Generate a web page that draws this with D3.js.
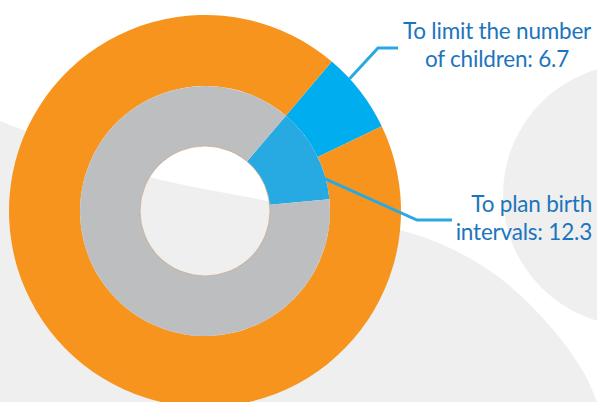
<!DOCTYPE html>
<html>
<head>
<meta charset="utf-8">
<script src="https://cdn.jsdelivr.net/npm/d3@7/dist/d3.min.js"></script>
<style>
  html, body { margin: 0; padding: 0; background: #ffffff; }
  svg { display: block; }
</style>
</head>
<body>
<svg id="chart" width="597" height="402"></svg>
<script>
// Reasons for using family planning (percent)
const ringNames   = ["To limit the number of children", "To plan birth intervals"];
const ringValues  = [6.7, 12.3];
const labelLines  = [["To limit the number", "of children: 6.7"], ["To plan birth", "intervals: 12.3"]];
const total = 100;

const W = 597, H = 402;
const cx = 205, cy = 211;
const startDeg = 40.3;

const svg = d3.select("#chart");

// soft background shapes
const bg = svg.append("g");
const band = d3.line().curve(d3.curveCatmullRom)([
  [0, 121], [70, 148], [150, 177], [268, 201], [400, 230], [450, 248],
  [500, 278], [550, 326], [585, 375], [600, 410]
]);
bg.append("path").attr("d", band + "L0,410Z").attr("fill", "#efefef");
bg.append("circle").attr("cx", 634).attr("cy", 195).attr("r", 131).attr("fill", "#efefef");

const pie = d3.pie().sort(null).value(d => d)
  .startAngle(startDeg * Math.PI / 180)
  .endAngle(startDeg * Math.PI / 180 + 2 * Math.PI);

const rings = [
  { value: ringValues[0], inner: 125, outer: 196, colors: ["#00aeef", "#f7941d"] },
  { value: ringValues[1], inner: 65,  outer: 125, colors: ["#27aae1", "#bcbec0"] }
];

const g = svg.append("g").attr("transform", `translate(${cx},${cy})`);
const arcs = rings.map(r => {
  const a = d3.arc().innerRadius(r.inner).outerRadius(r.outer);
  const slices = pie([r.value, total - r.value]);
  g.append("g").selectAll("path").data(slices).join("path")
    .attr("d", a)
    .attr("fill", (d, i) => r.colors[i]);
  return { arc: a, slices };
});

// thin rim of the centre hole
g.append("circle").attr("r", 65).attr("fill", "none")
  .attr("stroke", "#c8a47e").attr("stroke-width", 0.7);

// leader lines
function pointAt(rad, angle) {
  return [cx + rad * Math.sin(angle), cy - rad * Math.cos(angle)];
}
const s0 = arcs[0].slices[0];
const s1 = arcs[1].slices[0];
const p0 = pointAt(196, s0.startAngle + (s0.endAngle - s0.startAngle) * 0.3);
const p1 = pointAt(124, s1.startAngle + (s1.endAngle - s1.startAngle) * 0.78);
const leaders = [
  [p0, [378, 48], [398, 48]],
  [p1, [417, 220], [452, 220]]
];
svg.append("g").selectAll("path").data(leaders).join("path")
  .attr("d", d3.line())
  .attr("fill", "none")
  .attr("stroke", "#29a9e0")
  .attr("stroke-width", 3);

// labels
const labelPos = [{ x: 497, y: 39, anchor: "middle" }, { x: 592, y: 212, anchor: "end" }];
const labels = svg.append("g")
  .attr("font-family", "Lato, 'Open Sans', sans-serif")
  .attr("font-size", 22.5)
  .attr("letter-spacing", -0.2)
  .attr("fill", "#1c75bc");
labelLines.forEach((lines, i) => {
  const t = labels.append("text")
    .attr("x", labelPos[i].x).attr("y", labelPos[i].y)
    .attr("text-anchor", labelPos[i].anchor);
  lines.forEach((ln, j) => {
    t.append("tspan").attr("x", labelPos[i].x).attr("dy", j === 0 ? 0 : 27.5).text(ln);
  });
});
</script>
</body>
</html>
